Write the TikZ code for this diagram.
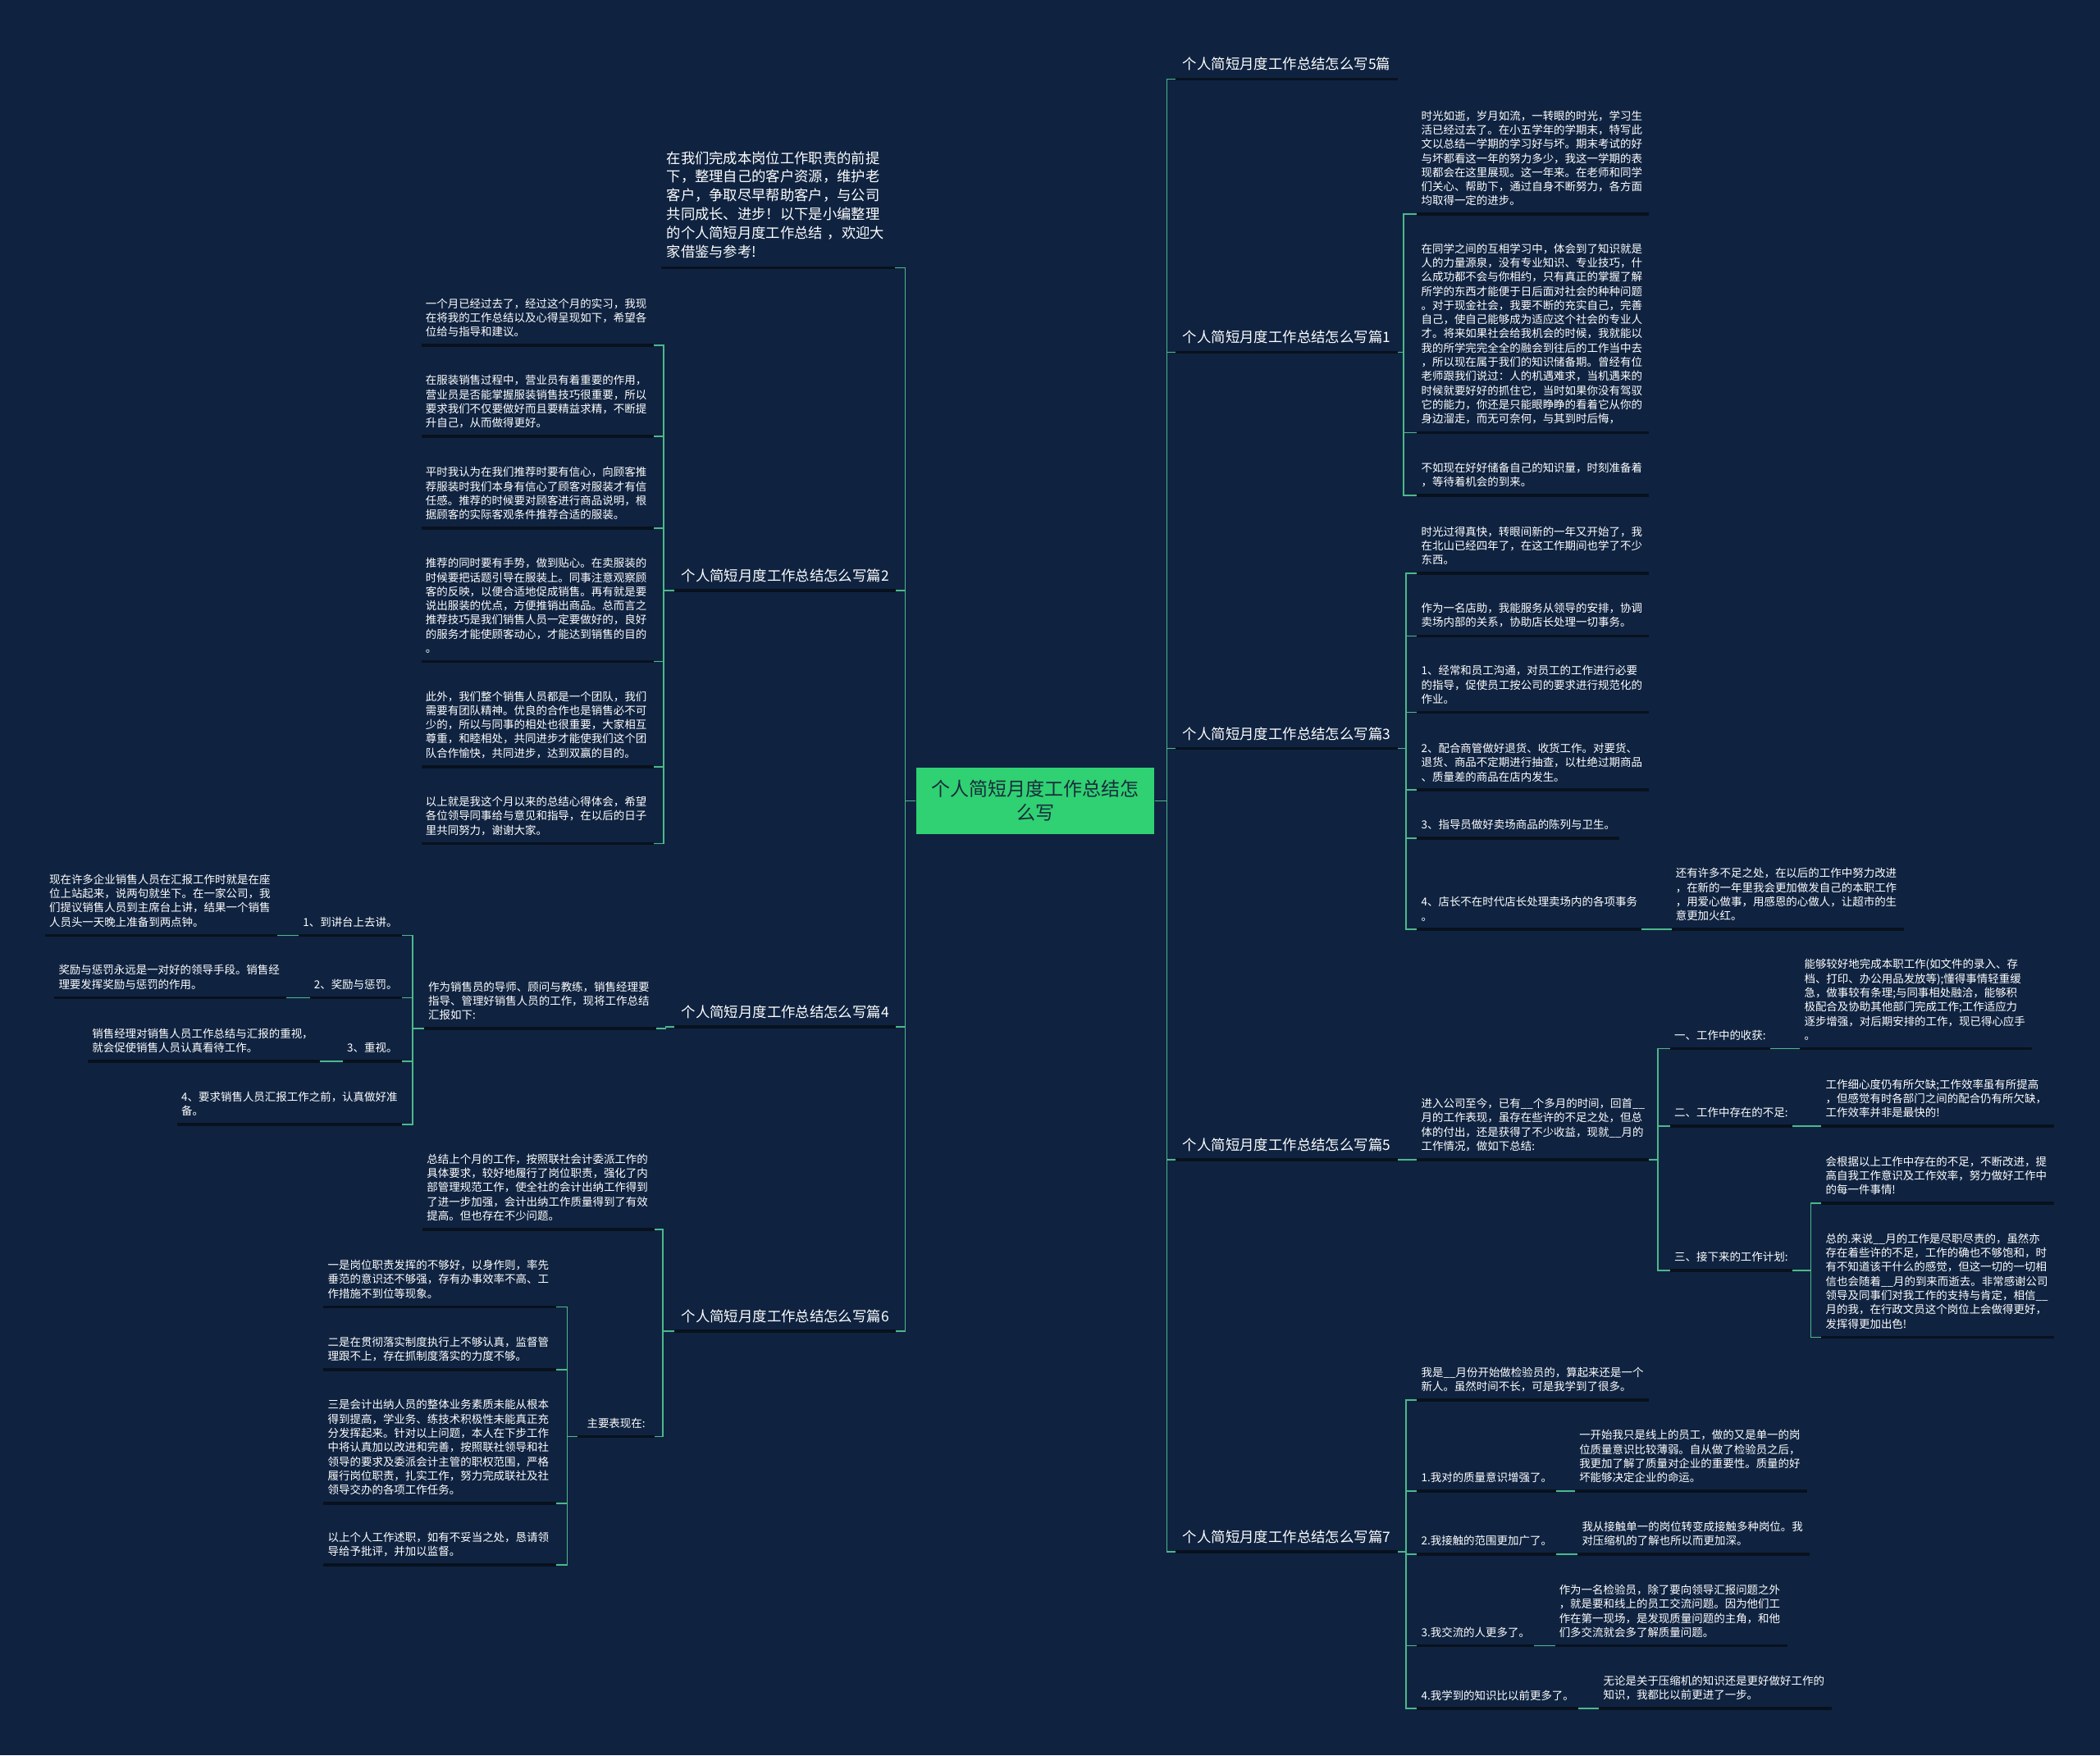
\documentclass[tikz,border=0pt]{standalone}
\usepackage{fontspec}
\newfontfamily\cjk{Noto Sans CJK SC}
\usetikzlibrary{calc}
\definecolor{bg}{HTML}{0F2340}
\definecolor{lnk}{HTML}{4DB88A}
\definecolor{ulc}{HTML}{08111E}
\definecolor{ctrfill}{HTML}{2FD172}
\definecolor{ctrtxt}{HTML}{1A2B3C}
\newcommand\rconn[3]{\draw[conn] (#1.south east) -| ($(#2.south west)+(-#3,0)$) -- (#2.south west);}
\newcommand\lconn[3]{\draw[conn] (#1.south west) -| ($(#2.south east)+(#3,0)$) -- (#2.south east);}
\begin{document}
\begin{tikzpicture}[x=1pt,y=-1pt,
  leaf/.style={font=\cjk\fontsize{8.25pt}{10.6pt}\selectfont, text=white, align=left, inner xsep=3pt, inner ysep=6pt},
  leafw/.style={leaf, text width=167pt},
  ttl/.style={font=\cjk\fontsize{10.65pt}{13pt}\selectfont, text=white, inner xsep=5pt, inner ysep=6pt},
  conn/.style={draw=lnk, line width=1pt},
  uline/.style={draw=ulc, line width=2.2pt},
  sw/.style={anchor=south west},
  se/.style={anchor=south east},
]
\fill[bg] (0,0) rectangle (1568,1311);
\useasboundingbox (0,0) rectangle (1568,1311);

% center
\node[fill=ctrfill, text=ctrtxt, minimum width=178pt, minimum height=50pt, align=center,
  font=\cjk\fontsize{14.1pt}{18pt}\selectfont] (ctr) at (773,598) {个人简短月度工作总结怎\\么写};

% ---------- right side titles
\node[ttl,sw] (b5p) at (878,59) {个人简短月度工作总结怎么写5篇};
\node[ttl,sw] (b1) at (878,263) {个人简短月度工作总结怎么写篇1};
\node[ttl,sw] (b3) at (878,559) {个人简短月度工作总结怎么写篇3};
\node[ttl,sw] (b5) at (878,866) {个人简短月度工作总结怎么写篇5};
\node[ttl,sw] (b7) at (878,1159) {个人简短月度工作总结怎么写篇7};

% 篇1
\node[leafw,sw] (c11) at (1058,160) {时光如逝，岁月如流，一转眼的时光，学习生\\活已经过去了。在小五学年的学期末，特写此\\文以总结一学期的学习好与坏。期末考试的好\\与坏都看这一年的努力多少，我这一学期的表\\现都会在这里展现。这一年来。在老师和同学\\们关心、帮助下，通过自身不断努力，各方面\\均取得一定的进步。};
\node[leafw,sw] (c12) at (1058,323) {在同学之间的互相学习中，体会到了知识就是\\人的力量源泉，没有专业知识、专业技巧，什\\么成功都不会与你相约，只有真正的掌握了解\\所学的东西才能便于日后面对社会的种种问题\\。对于现金社会，我要不断的充实自己，完善\\自己，使自己能够成为适应这个社会的专业人\\才。将来如果社会给我机会的时候，我就能以\\我的所学完完全全的融会到往后的工作当中去\\，所以现在属于我们的知识储备期。曾经有位\\老师跟我们说过：人的机遇难求，当机遇来的\\时候就要好好的抓住它，当时如果你没有驾驭\\它的能力，你还是只能眼睁睁的看着它从你的\\身边溜走，而无可奈何，与其到时后悔，};
\node[leafw,sw] (c13) at (1058,370) {不如现在好好储备自己的知识量，时刻准备着\\，等待着机会的到来。};

% 篇3
\node[leafw,sw] (c31) at (1058,428) {时光过得真快，转眼间新的一年又开始了，我\\在北山已经四年了，在这工作期间也学了不少\\东西。};
\node[leafw,sw] (c32) at (1058,475) {作为一名店助，我能服务从领导的安排，协调\\卖场内部的关系，协助店长处理一切事务。};
\node[leafw,sw] (c33) at (1058,532) {1、经常和员工沟通，对员工的工作进行必要\\的指导，促使员工按公司的要求进行规范化的\\作业。};
\node[leafw,sw] (c34) at (1058,590) {2、配合商管做好退货、收货工作。对要货、\\退货、商品不定期进行抽查，以杜绝过期商品\\、质量差的商品在店内发生。};
\node[leaf,sw] (c35) at (1058,626) {3、指导员做好卖场商品的陈列与卫生。};
\node[leaf,sw] (c36) at (1058,694) {4、店长不在时代店长处理卖场内的各项事务\\。};
\node[leafw,sw] (c361) at (1248,694) {还有许多不足之处，在以后的工作中努力改进\\，在新的一年里我会更加做发自己的本职工作\\，用爱心做事，用感恩的心做人，让超市的生\\意更加火红。};

% 篇5
\node[leafw,sw] (c51) at (1058,866) {进入公司至今，已有\_\_个多月的时间，回首\_\_\\月的工作表现，虽存在些许的不足之处，但总\\体的付出，还是获得了不少收益，现就\_\_月的\\工作情况，做如下总结:};
\node[leaf,sw] (c5a) at (1247,783) {一、工作中的收获:};
\node[leafw,sw] (c5a1) at (1344,783) {能够较好地完成本职工作(如文件的录入、存\\档、打印、办公用品发放等);懂得事情轻重缓\\急，做事较有条理;与同事相处融洽，能够积\\极配合及协助其他部门完成工作;工作适应力\\逐步增强，对后期安排的工作，现已得心应手\\。};
\node[leaf,sw] (c5b) at (1247,841) {二、工作中存在的不足:};
\node[leafw,sw] (c5b1) at (1360,841) {工作细心度仍有所欠缺;工作效率虽有所提高\\，但感觉有时各部门之间的配合仍有所欠缺，\\工作效率并非是最快的!};
\node[leaf,sw] (c5c) at (1247,948.6) {三、接下来的工作计划:};
\node[leafw,sw] (c5c1) at (1360,898.5) {会根据以上工作中存在的不足，不断改进，提\\高自我工作意识及工作效率，努力做好工作中\\的每一件事情!};
\node[leafw,sw] (c5c2) at (1360,998.6) {总的.来说\_\_月的工作是尽职尽责的，虽然亦\\存在着些许的不足，工作的确也不够饱和，时\\有不知道该干什么的感觉，但这一切的一切相\\信也会随着\_\_月的到来而逝去。非常感谢公司\\领导及同事们对我工作的支持与肯定，相信\_\_\\月的我，在行政文员这个岗位上会做得更好，\\发挥得更加出色!};

% 篇7
\node[leafw,sw] (c71) at (1058,1045.5) {我是\_\_月份开始做检验员的，算起来还是一个\\新人。虽然时间不长，可是我学到了很多。};
\node[leaf,sw] (c72) at (1058,1113.5) {1.我对的质量意识增强了。};
\node[leafw,sw] (c721) at (1176,1113.5) {一开始我只是线上的员工，做的又是单一的岗\\位质量意识比较薄弱。自从做了检验员之后，\\我更加了解了质量对企业的重要性。质量的好\\坏能够决定企业的命运。};
\node[leaf,sw] (c73) at (1058,1160.5) {2.我接触的范围更加广了。};
\node[leafw,sw] (c731) at (1178,1160.5) {我从接触单一的岗位转变成接触多种岗位。我\\对压缩机的了解也所以而更加深。};
\node[leaf,sw] (c74) at (1058,1229) {3.我交流的人更多了。};
\node[leafw,sw] (c741) at (1161,1229) {作为一名检验员，除了要向领导汇报问题之外\\，就是要和线上的员工交流问题。因为他们工\\作在第一现场，是发现质量问题的主角，和他\\们多交流就会多了解质量问题。};
\node[leaf,sw] (c75) at (1058,1276) {4.我学到的知识比以前更多了。};
\node[leafw,sw] (c751) at (1194,1276) {无论是关于压缩机的知识还是更好做好工作的\\知识，我都比以前更进了一步。};

% ---------- left side
\node[se, font=\cjk\fontsize{10.6pt}{14pt}\selectfont, text=white, align=left, text width=166pt, inner xsep=4pt, inner ysep=7pt] (intro) at (668,200) {在我们完成本岗位工作职责的前提\\下，整理自己的客户资源，维护老\\客户，争取尽早帮助客户，与公司\\共同成长、进步！以下是小编整理\\的个人简短月度工作总结~，欢迎大\\家借鉴与参考!};
\node[ttl,se] (b2) at (669,441) {个人简短月度工作总结怎么写篇2};
\node[ttl,se] (b4) at (669,767) {个人简短月度工作总结怎么写篇4};
\node[ttl,se] (b6) at (669,994) {个人简短月度工作总结怎么写篇6};

% 篇2
\node[leafw,se] (l21) at (488,258) {一个月已经过去了，经过这个月的实习，我现\\在将我的工作总结以及心得呈现如下，希望各\\位给与指导和建议。};
\node[leafw,se] (l22) at (488,326) {在服装销售过程中，营业员有着重要的作用，\\营业员是否能掌握服装销售技巧很重要，所以\\要求我们不仅要做好而且要精益求精，不断提\\升自己，从而做得更好。};
\node[leafw,se] (l23) at (488,394.4) {平时我认为在我们推荐时要有信心，向顾客推\\荐服装时我们本身有信心了顾客对服装才有信\\任感。推荐的时候要对顾客进行商品说明，根\\据顾客的实际客观条件推荐合适的服装。};
\node[leafw,se] (l24) at (488,494) {推荐的同时要有手势，做到贴心。在卖服装的\\时候要把话题引导在服装上。同事注意观察顾\\客的反映，以便合适地促成销售。再有就是要\\说出服装的优点，方便推销出商品。总而言之\\推荐技巧是我们销售人员一定要做好的，良好\\的服务才能使顾客动心，才能达到销售的目的\\。};
\node[leafw,se] (l25) at (488,572.6) {此外，我们整个销售人员都是一个团队，我们\\需要有团队精神。优良的合作也是销售必不可\\少的，所以与同事的相处也很重要，大家相互\\尊重，和睦相处，共同进步才能使我们这个团\\队合作愉快，共同进步，达到双赢的目的。};
\node[leafw,se] (l26) at (488,630) {以上就是我这个月以来的总结心得体会，希望\\各位领导同事给与意见和指导，在以后的日子\\里共同努力，谢谢大家。};

% 篇4
\node[leafw,se] (l41) at (490,768) {作为销售员的导师、顾问与教练，销售经理要\\指导、管理好销售人员的工作，现将工作总结\\汇报如下:};
\node[leaf,se] (l4a) at (300,698.5) {1、到讲台上去讲。};
\node[leafw,se] (l4a1) at (207,698.5) {现在许多企业销售人员在汇报工作时就是在座\\位上站起来，说两句就坐下。在一家公司，我\\们提议销售人员到主席台上讲，结果一个销售\\人员头一天晚上准备到两点钟。};
\node[leaf,se] (l4b) at (300,745) {2、奖励与惩罚。};
\node[leafw,se] (l4b1) at (214,745) {奖励与惩罚永远是一对好的领导手段。销售经\\理要发挥奖励与惩罚的作用。};
\node[leaf,se] (l4c) at (300,792.5) {3、重视。};
\node[leafw,se] (l4c1) at (239,792.5) {销售经理对销售人员工作总结与汇报的重视，\\就会促使销售人员认真看待工作。};
\node[leaf,se] (l4d) at (300,839.6) {4、要求销售人员汇报工作之前，认真做好准\\备。};

% 篇6
\node[leafw,se] (l61) at (489,918) {总结上个月的工作，按照联社会计委派工作的\\具体要求，较好地履行了岗位职责，强化了内\\部管理规范工作，使全社的会计出纳工作得到\\了进一步加强，会计出纳工作质量得到了有效\\提高。但也存在不少问题。};
\node[leaf,se,inner xsep=7pt] (l62) at (489,1072.7) {主要表现在:};
\node[leafw,se] (l6a) at (415,976) {一是岗位职责发挥的不够好，以身作则，率先\\垂范的意识还不够强，存有办事效率不高、工\\作措施不到位等现象。};
\node[leafw,se] (l6b) at (415,1023) {二是在贯彻落实制度执行上不够认真，监督管\\理跟不上，存在抓制度落实的力度不够。};
\node[leafw,se] (l6c) at (415,1122.7) {三是会计出纳人员的整体业务素质未能从根本\\得到提高，学业务、练技术积极性未能真正充\\分发挥起来。针对以上问题，本人在下步工作\\中将认真加以改进和完善，按照联社领导和社\\领导的要求及委派会计主管的职权范围，严格\\履行岗位职责，扎实工作，努力完成联社及社\\领导交办的各项工作任务。};
\node[leafw,se] (l6d) at (415,1168.6) {以上个人工作述职，如有不妥当之处，恳请领\\导给予批评，并加以监督。};

% ---------- connectors
\foreach \n in {b5p,b1,b3,b5,b7} \draw[conn] (ctr.east) -- ++(9,0) |- (\n.south west);
\foreach \n in {intro,b2,b4,b6} \draw[conn] (ctr.west) -- ++(-8,0) |- (\n.south east);

\foreach \c in {c11,c12,c13} {\rconn{b1}{\c}{10}}
\foreach \c in {c31,c32,c33,c34,c35,c36} {\rconn{b3}{\c}{8}}
\rconn{c36}{c361}{10}
\rconn{b5}{c51}{8}
\foreach \c in {c5a,c5b,c5c} {\rconn{c51}{\c}{9}}
\rconn{c5a}{c5a1}{8}
\rconn{c5b}{c5b1}{8}
\foreach \c in {c5c1,c5c2} {\rconn{c5c}{\c}{8}}
\foreach \c in {c71,c72,c73,c74,c75} {\rconn{b7}{\c}{8}}
\rconn{c72}{c721}{8}
\rconn{c73}{c731}{8}
\rconn{c74}{c741}{8}
\rconn{c75}{c751}{8}

\foreach \c in {l21,l22,l23,l24,l25,l26} {\lconn{b2}{\c}{7.5}}
\lconn{b4}{l41}{7}
\foreach \c in {l4a,l4b,l4c,l4d} {\lconn{l41}{\c}{8}}
\lconn{l4a}{l4a1}{8}
\lconn{l4b}{l4b1}{8}
\lconn{l4c}{l4c1}{8}
\foreach \c in {l61,l62} {\lconn{b6}{\c}{6}}
\foreach \c in {l6a,l6b,l6c,l6d} {\lconn{l62}{\c}{8.6}}

% ---------- underlines
\foreach \n in {b5p,b1,b3,b5,b7,c11,c12,c13,c31,c32,c33,c34,c35,c36,c361,c51,c5a,c5a1,c5b,c5b1,c5c,c5c1,c5c2,c71,c72,c721,c73,c731,c74,c741,c75,c751,intro,b2,b4,b6,l21,l22,l23,l24,l25,l26,l41,l4a,l4a1,l4b,l4b1,l4c,l4c1,l4d,l61,l62,l6a,l6b,l6c,l6d}
  \draw[uline] (\n.south west) -- (\n.south east);
\end{tikzpicture}
\end{document}
